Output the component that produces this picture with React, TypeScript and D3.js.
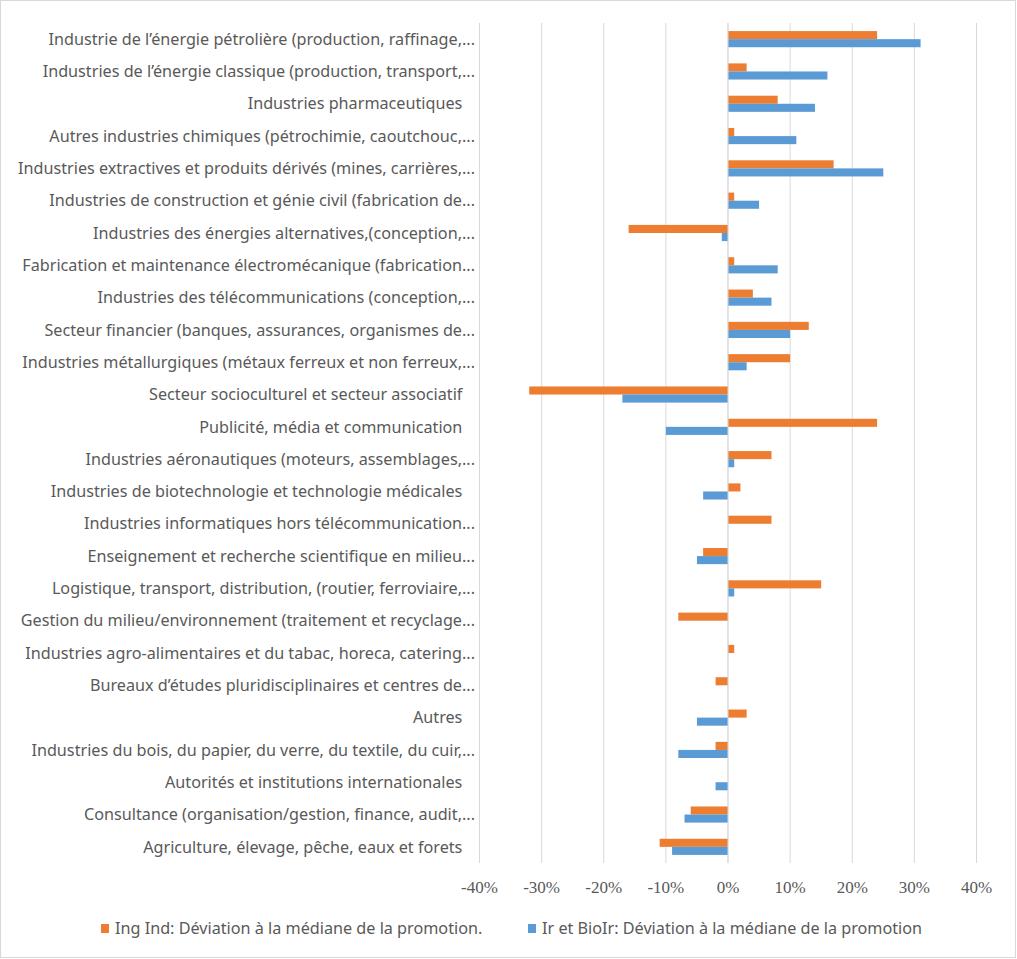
import * as d3 from 'd3'

// categories, top to bottom
const categories: string[] = [
  'Industrie de l’énergie pétrolière (production, raffinage,...',
  'Industries de l’énergie classique (production, transport,...',
  'Industries pharmaceutiques\u00a0\u00a0\u00a0',
  'Autres industries chimiques (pétrochimie, caoutchouc,...',
  'Industries extractives et produits dérivés (mines, carrières,...',
  'Industries de construction et génie civil (fabrication de...',
  'Industries des énergies alternatives,(conception,...',
  'Fabrication et maintenance électromécanique (fabrication...',
  'Industries des télécommunications (conception,...',
  'Secteur financier (banques, assurances, organismes de...',
  'Industries métallurgiques (métaux ferreux et non ferreux,...',
  'Secteur socioculturel et secteur associatif\u00a0\u00a0\u00a0',
  'Publicité, média et communication\u00a0\u00a0\u00a0',
  'Industries aéronautiques (moteurs, assemblages,...',
  'Industries de biotechnologie et technologie médicales\u00a0\u00a0\u00a0',
  'Industries informatiques hors télécommunication...',
  'Enseignement et recherche scientifique en milieu...',
  'Logistique, transport, distribution, (routier, ferroviaire,...',
  'Gestion du milieu/environnement (traitement et recyclage...',
  'Industries agro-alimentaires et du tabac, horeca, catering...',
  'Bureaux d’études pluridisciplinaires et centres de...',
  'Autres\u00a0\u00a0\u00a0',
  'Industries du bois, du papier, du verre, du textile, du cuir,...',
  'Autorités et institutions internationales\u00a0\u00a0\u00a0',
  'Consultance (organisation/gestion, finance, audit,...',
  'Agriculture, élevage, pêche, eaux et forets\u00a0\u00a0\u00a0',
]

// Ing Ind: deviation from the class median
const ingInd: number[] = [
  0.24, 0.03, 0.08, 0.01, 0.17, 0.01, -0.16, 0.01, 0.04, 0.13, 0.1, -0.32, 0.24,
  0.07, 0.02, 0.07, -0.04, 0.15, -0.08, 0.01, -0.02, 0.03, -0.02, 0, -0.06, -0.11,
]

// Ir et BioIr: deviation from the class median
const irBioIr: number[] = [
  0.31, 0.16, 0.14, 0.11, 0.25, 0.05, -0.01, 0.08, 0.07, 0.1, 0.03, -0.17, -0.1,
  0.01, -0.04, 0, -0.05, 0.01, 0, 0, 0, -0.05, -0.08, -0.02, -0.07, -0.09,
]

const seriesNames = [
  'Ing Ind: Déviation à la médiane de la promotion.',
  'Ir et BioIr: Déviation à la médiane de la promotion',
]
const seriesColors = ['#ED7D31', '#5B9BD5']
const xTicks = [-0.4, -0.3, -0.2, -0.1, 0, 0.1, 0.2, 0.3, 0.4]

const W = 1017
const H = 959
const textFont = 'Noto Sans, sans-serif'

export default function App() {
  const gridTop = 23
  const gridBottom = 863
  const x = d3.scaleLinear().domain([-0.4, 0.4]).range([479.5, 976.5])
  const y = d3.scaleBand<string>().domain(categories).range([gridTop, gridBottom])
  const step = y.step()
  const inner = d3
    .scaleBand<number>()
    .domain([0, 1])
    .range([step / 4, (step * 3) / 4])
  const series = [ingInd, irBioIr]
  const fmt = (t: number) => d3.format('.0%')(t).replace('\u2212', '-')

  return (
    <svg
      width={W}
      height={H}
      style={{ position: 'absolute', left: 0, top: 0, background: '#fff' }}
    >
      <rect x={0.5} y={0.5} width={W - 2} height={H - 2} fill="#fff" stroke="#D9D9D9" />
      {xTicks.map((t) => (
        <line
          key={t}
          x1={x(t)}
          x2={x(t)}
          y1={gridTop}
          y2={gridBottom}
          stroke="#D9D9D9"
          strokeWidth={1}
        />
      ))}
      {series.map((vals, si) =>
        vals.map((v, i) => {
          if (v === 0) return null
          const y0 = (y(categories[i]) ?? 0) + (inner(si) ?? 0)
          return (
            <rect
              key={si + '-' + i}
              x={Math.min(x(0), x(v))}
              y={y0}
              width={Math.abs(x(v) - x(0))}
              height={inner.bandwidth()}
              fill={seriesColors[si]}
            />
          )
        })
      )}
      <line x1={x(0)} x2={x(0)} y1={gridTop} y2={gridBottom} stroke="#D9D9D9" />
      {categories.map((c) => (
        <text
          key={c}
          x={475}
          y={(y(c) ?? 0) + step / 2}
          dy="0.35em"
          textAnchor="end"
          fontFamily={textFont}
          fontSize={16.2}
          fill="#595959"
        >
          {c}
        </text>
      ))}
      {xTicks.map((t) => (
        <text
          key={'l' + t}
          x={x(t)}
          y={887}
          dy="0.35em"
          textAnchor="middle"
          fontFamily="Liberation Serif, serif"
          fontSize={17}
          fill="#595959"
        >
          {fmt(t)}
        </text>
      ))}
      {seriesNames.map((n, si) => {
        const lx = si === 0 ? 101 : 528
        return (
          <g key={n}>
            <rect x={lx} y={924} width={8} height={9} fill={seriesColors[si]} />
            <text
              x={lx + 14}
              y={928.5}
              dy="0.35em"
              fontFamily={textFont}
              fontSize={16.2}
              fill="#595959"
            >
              {n}
            </text>
          </g>
        )
      })}
    </svg>
  )
}
